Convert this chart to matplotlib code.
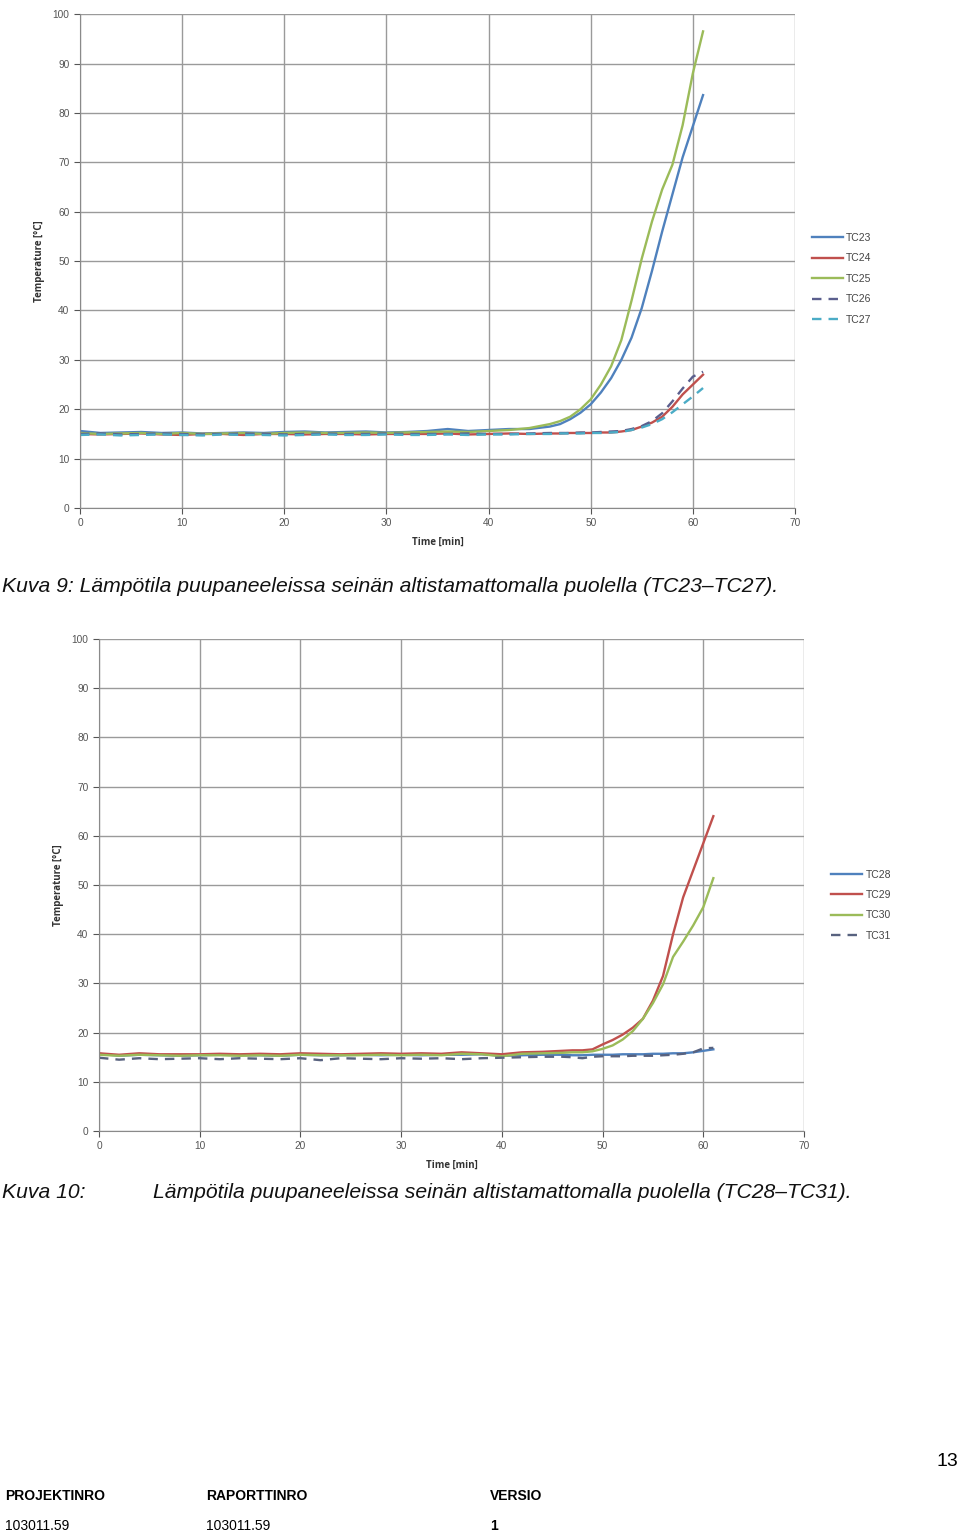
import numpy as np
import matplotlib
matplotlib.use('Agg')
import matplotlib.pyplot as plt

plt.rcParams['font.family'] = ['Liberation Sans', 'DejaVu Sans']

# aika-akseli (min)
t = [0, 2, 4, 6, 8, 10, 12, 14, 16, 18, 20, 22, 24, 26, 28, 30, 32, 34, 36, 38, 40, 42, 44,
     46, 47, 48, 49, 50, 51, 52, 53, 54, 55, 56, 57, 58, 59, 60, 61]

# Kuva 9
tc23 = [15.6, 15.2, 15.3, 15.4, 15.2, 15.3, 15.1, 15.2, 15.3, 15.2, 15.4, 15.5, 15.3, 15.4, 15.5, 15.3,
        15.4, 15.6, 16.0, 15.6, 15.8, 16.0, 16.0,
        16.5, 17.0, 18.0, 19.3, 21.0, 23.4, 26.3, 30.0, 34.5, 40.5, 48.0, 56.0, 63.5, 71.0, 77.3, 83.6]
tc24 = [15.0, 14.9, 15.0, 15.1, 14.9, 14.8, 15.0, 15.0, 14.8, 15.0, 15.0, 14.9, 15.0, 15.0, 14.9, 15.0,
        15.0, 15.0, 15.1, 14.9, 15.0, 15.1, 15.0,
        15.1, 15.1, 15.2, 15.2, 15.2, 15.3, 15.3, 15.5, 15.8, 16.5, 17.3, 18.5, 20.5, 23.0, 25.0, 27.0]
tc25 = [15.2, 15.0, 15.1, 15.2, 15.0, 15.2, 15.0, 15.1, 15.2, 15.0, 15.2, 15.3, 15.2, 15.2, 15.3, 15.2,
        15.3, 15.4, 15.5, 15.4, 15.6, 15.8, 16.2,
        17.0, 17.6, 18.5, 20.0, 22.0, 25.0, 28.7, 34.0, 42.0, 50.5, 58.0, 64.5, 69.5, 77.5, 88.0, 96.5]
tc26 = [15.0, 15.1, 14.9, 15.0, 15.1, 15.0, 14.9, 15.0, 15.1, 15.0, 14.9, 15.0, 15.1, 15.0, 15.0, 15.1,
        15.0, 15.0, 15.0, 15.1, 15.0, 15.0, 15.1,
        15.2, 15.2, 15.2, 15.3, 15.3, 15.4, 15.5, 15.6, 16.0, 16.6, 17.6, 19.2, 21.6, 24.2, 26.6, 27.6]
tc27 = [14.8, 14.9, 14.7, 14.8, 14.9, 14.8, 14.7, 14.9, 14.8, 14.8, 14.7, 14.8, 14.9, 14.8, 14.8, 14.9,
        14.8, 14.8, 14.9, 14.8, 14.9, 14.9, 15.0,
        15.0, 15.1, 15.1, 15.1, 15.2, 15.2, 15.3, 15.4, 15.8, 16.3, 17.0, 18.0, 19.4, 21.0, 22.6, 24.3]

# Kuva 10
tc28 = [15.7, 15.3, 15.5, 15.4, 15.3, 15.4, 15.5, 15.4, 15.4, 15.3, 15.5, 15.4, 15.4, 15.5, 15.4, 15.5,
        15.4, 15.5, 15.5, 15.6, 15.3, 15.4, 15.5,
        15.5, 15.4, 15.4, 15.5, 15.5, 15.5, 15.6, 15.6, 15.6, 15.7, 15.7, 15.8, 15.8, 16.0, 16.3, 16.6]
tc29 = [15.8, 15.5, 15.8, 15.6, 15.6, 15.6, 15.7, 15.6, 15.7, 15.6, 15.8, 15.7, 15.6, 15.7, 15.8, 15.7,
        15.8, 15.7, 16.0, 15.8, 15.6, 16.0, 16.1,
        16.3, 16.4, 16.4, 16.6, 17.6, 18.5, 19.6, 21.0, 22.8, 26.5, 31.5, 40.0, 47.5, 53.0, 58.5, 64.0]
tc30 = [15.5, 15.3, 15.5, 15.4, 15.3, 15.4, 15.4, 15.3, 15.4, 15.3, 15.5, 15.4, 15.4, 15.4, 15.5, 15.4,
        15.5, 15.4, 15.7, 15.6, 15.2, 15.7, 15.8,
        15.9, 16.0, 16.0, 16.2, 16.7, 17.4, 18.6, 20.3, 22.8, 26.0, 29.8, 35.4, 38.5, 41.8, 45.5, 51.4]
tc31 = [14.9, 14.5, 14.8, 14.6, 14.7, 14.8, 14.6, 14.8, 14.7, 14.6, 14.8, 14.4, 14.8, 14.7, 14.6, 14.8,
        14.7, 14.8, 14.6, 14.8, 14.9, 15.0, 15.1,
        15.1, 15.0, 14.8, 15.1, 15.2, 15.2, 15.2, 15.3, 15.3, 15.3, 15.4, 15.5, 15.7, 16.0, 16.8, 16.9]

sarja1 = [('TC23', tc23, '#4F81BD', '-'), ('TC24', tc24, '#C0504D', '-'),
          ('TC25', tc25, '#9BBB59', '-'), ('TC26', tc26, '#5B5F8E', '--'),
          ('TC27', tc27, '#4BACC6', '--')]
sarja2 = [('TC28', tc28, '#4F81BD', '-'), ('TC29', tc29, '#C0504D', '-'),
          ('TC30', tc30, '#9BBB59', '-'), ('TC31', tc31, '#58627F', '--')]

fig = plt.figure(figsize=(9.6, 15.34), dpi=100)


def piirra(ax, sarjat, leg_pos, ylab_x):
    for nimi, y, c, ls in sarjat:
        ax.plot(t, y, color=c, ls=ls, lw=1.7, label=nimi, dashes=(4, 3) if ls == '--' else (None, None))
    ax.set_xlim(0, 70)
    ax.set_ylim(0, 100)
    ax.set_xticks(range(0, 71, 10))
    ax.set_yticks(range(0, 101, 10))
    ax.grid(True, color='#9a9a9a', lw=1.0)
    ax.set_axisbelow(True)
    for s in ['top', 'right']:
        ax.spines[s].set_visible(False)
    for s in ['left', 'bottom']:
        ax.spines[s].set_color('#8a8a8a')
    ax.tick_params(labelsize=7.3, colors='#555555', length=4, direction='out')
    ax.set_xlabel('Time [min]', fontsize=7, fontweight='bold', color='#333333', labelpad=6,
                  family=['Open Sans', 'DejaVu Sans'])
    ax.set_ylabel('Temperature [°C]', fontsize=7, fontweight='bold', color='#333333',
                  family=['Open Sans', 'DejaVu Sans'])
    ax.yaxis.set_label_coords(ylab_x, 0.5)
    leg = ax.legend(loc='center left', bbox_to_anchor=leg_pos, frameon=False, fontsize=7.5,
                    handlelength=3.0, labelspacing=1.0, handletextpad=0.3)
    for txt in leg.get_texts():
        txt.set_color('#444444')


ax1 = fig.add_axes([0.0833, 0.6688, 0.7448, 0.3220])
piirra(ax1, sarja1, (1.01, 0.464), -0.049)

ax2 = fig.add_axes([0.1031, 0.2627, 0.7344, 0.3207])
piirra(ax2, sarja2, (1.025, 0.459), -0.05)

cap = dict(fontsize=15.2, style='italic', va='center', color='#111111')
fig.text(0.002, 1 - 586 / 1534, 'Kuva 9: Lämpötila puupaneeleissa seinän altistamattomalla puolella (TC23–TC27).', **cap)
fig.text(0.002, 1 - 1193 / 1534, 'Kuva 10:', **cap)
fig.text(153 / 960, 1 - 1193 / 1534, 'Lämpötila puupaneeleissa seinän altistamattomalla puolella (TC28–TC31).', **cap)

fig.text(0.998, 1 - 1461 / 1534, '13', fontsize=14, ha='right', va='center')
for x, otsikko, arvo in [(5, 'PROJEKTINRO', '103011.59'), (206, 'RAPORTTINRO', '103011.59'), (490, 'VERSIO', '1')]:
    fig.text(x / 960, 1 - 1496 / 1534, otsikko, fontsize=10, fontweight='bold', va='center')
    fig.text(x / 960, 1 - 1526 / 1534, arvo, fontsize=10, va='center',
             fontweight='bold' if arvo == '1' else 'normal')

fig.savefig('out.png', dpi=100, facecolor='white')
